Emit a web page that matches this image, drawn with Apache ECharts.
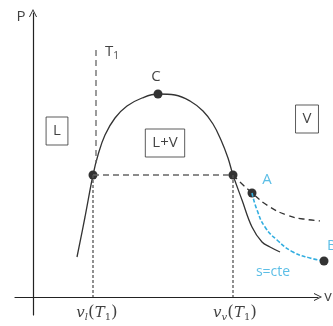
<!DOCTYPE html>
<html>
<head>
<meta charset="utf-8">
<script src="https://cdn.jsdelivr.net/npm/echarts@6/dist/echarts.min.js"></script>
<style>
  html, body { margin: 0; padding: 0; background: #fff; }
  #chart { width: 333px; height: 326px; }
</style>
</head>
<body>
<div id="chart"></div>
<script>
// saturation dome (v, P) in arbitrary units
var domeV = [44, 52, 60, 65, 72, 82, 94, 109, 125, 142, 157, 170, 180, 188, 195, 200, 209, 219, 229, 237, 247];
var domeP = [40, 80, 122, 142, 162, 179, 191, 199, 203, 202, 196, 186, 173, 157, 139, 122, 97, 70, 55, 50, 45];
// isotherm T1
var t1LiqV = [63, 63];
var t1LiqP = [247, 134];
var plateauV = [60, 200];
var plateauP = [122, 122];
var t1VapV = [200, 219, 237, 254, 270, 302];
var t1VapP = [122, 104, 90, 82, 78, 75];
// isentrope A -> B
var isoSV = [219, 224, 232, 244, 260, 277, 291];
var isoSP = [104, 87, 70, 57, 45, 39, 36];
// marked states: left sat., right sat., C, A, B
var pointV = [60, 200, 125, 219, 291];
var pointP = [122, 122, 203, 104, 36];

var chart = echarts.init(document.getElementById('chart'));

function pairs(xs, ys) {
    return xs.map(function (x, i) { return [x, ys[i]]; });
}

function lineSeries(xs, ys, color, width, type, smooth) {
    return {
        type: 'line',
        data: pairs(xs, ys),
        showSymbol: false,
        smooth: smooth || false,
        clip: false,
        silent: true,
        lineStyle: { color: color, width: width, type: type }
    };
}

function textLabel(v, p, text, style) {
    return {
        type: 'scatter',
        data: [[v, p]],
        symbolSize: 0,
        clip: false,
        silent: true,
        label: Object.assign({
            show: true,
            position: 'inside',
            formatter: text,
            fontFamily: 'Open Sans',
            fontSize: 14,
            color: '#111'
        }, style || {})
    };
}

var boxStyle = { borderColor: '#333', borderWidth: 1, padding: [7, 7, 6, 7], fontSize: 15 };
var cyan = '#33aee0';
var serifRich = {
    i: { fontFamily: 'DejaVu Serif', fontStyle: 'italic', fontSize: 15, color: '#111' },
    s: { fontFamily: 'DejaVu Serif', fontStyle: 'italic', fontSize: 10, color: '#111', padding: [8, 0, 0, 0] },
    p: { fontFamily: 'DejaVu Serif', fontSize: 17, color: '#111' },
    n: { fontFamily: 'DejaVu Serif', fontSize: 10, color: '#111', padding: [8, 0, 0, 0] }
};
var arrowPath = 'path://M0,12 L6,0 L12,12 L10.6,12 L6,2.6 L1.4,12 Z';
var axisBase = {
    axisLine: { onZero: true, lineStyle: { color: '#222', width: 1.2 }, symbol: ['none', arrowPath], symbolSize: [11, 8] },
    axisTick: { show: false }, axisLabel: { show: false }, splitLine: { show: false }
};

chart.setOption({
    animation: false,
    grid: { left: 15, right: 15, top: 13, bottom: 11 },
    xAxis: Object.assign({ type: 'value', min: -18, max: 285 }, axisBase),
    yAxis: Object.assign({ type: 'value', min: -18, max: 284 }, axisBase),
    series: [
        lineSeries(domeV, domeP, '#333', 1.3, 'solid', 0.4),
        lineSeries(t1LiqV, t1LiqP, '#666', 1.3, [6, 4]),
        lineSeries(plateauV, plateauP, '#666', 1.3, [6, 4]),
        lineSeries(t1VapV, t1VapP, '#333', 1.3, [6, 4], 0.5),
        lineSeries([pointV[0], pointV[0]], [pointP[0], 0], '#555', 1.3, [3, 2]),
        lineSeries([pointV[1], pointV[1]], [pointP[1], 0], '#555', 1.3, [3, 2]),
        lineSeries(isoSV, isoSP, cyan, 1.6, [4, 2], 0.5),
        {
            type: 'scatter',
            data: pairs(pointV, pointP),
            symbolSize: 9,
            clip: false,
            silent: true,
            itemStyle: { color: '#000' }
        },
        textLabel(-12, 280, 'P', { fontSize: 15 }),
        textLabel(79, 245, '{t|T}{n|1}', {
            rich: {
                t: { fontFamily: 'Open Sans', fontSize: 15, color: '#111' },
                n: { fontFamily: 'Open Sans', fontSize: 10, color: '#111', padding: [8, 0, 0, 0] }
            }
        }),
        textLabel(123, 220, 'C', { fontSize: 15 }),
        textLabel(24, 166, 'L', boxStyle),
        textLabel(132, 154, 'L+V', boxStyle),
        textLabel(274, 178, 'V', boxStyle),
        textLabel(234, 117, 'A', { color: cyan, fontSize: 15 }),
        textLabel(294, 51, 'B', { color: cyan, fontSize: 15, align: 'left' }),
        textLabel(240, 25, 's=cte', { color: cyan, fontSize: 14 }),
        textLabel(295, 0, 'v', { fontSize: 15 }),
        textLabel(64, -16, '{i|v}{s|l}{p|(}{i|T}{n|1}{p|)}', { rich: serifRich }),
        textLabel(202, -16, '{i|v}{s|v}{p|(}{i|T}{n|1}{p|)}', { rich: serifRich })
    ]
});
</script>
</body>
</html>
